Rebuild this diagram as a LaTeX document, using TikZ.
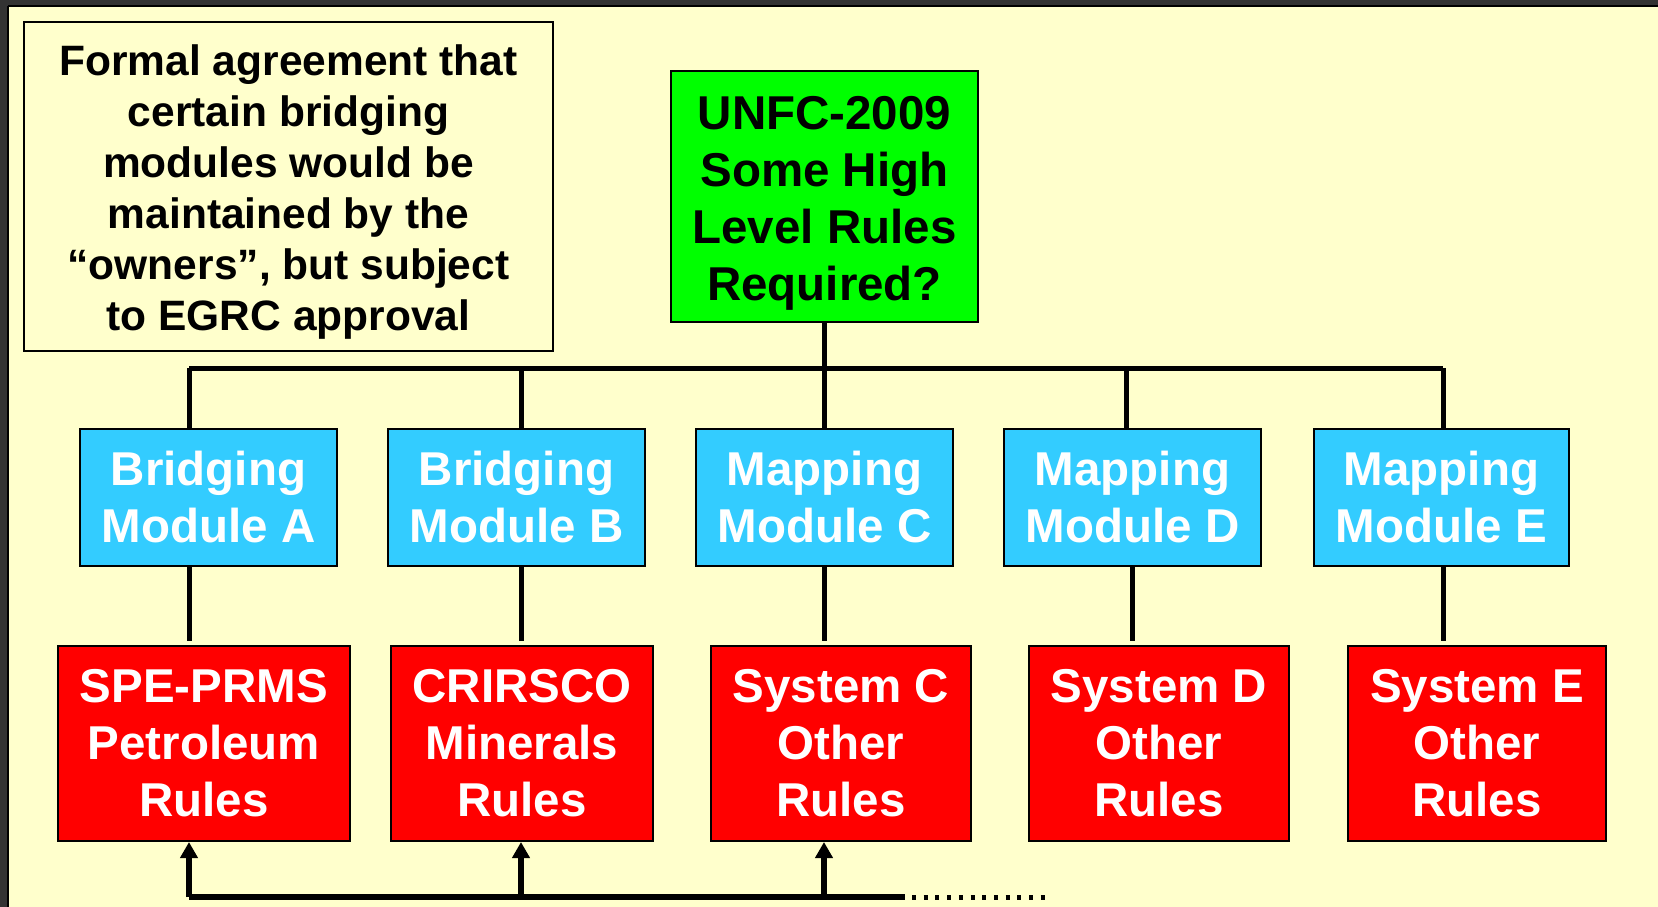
\documentclass[tikz,border=0pt]{standalone}
\usepackage{fontspec}
\setmainfont{Liberation Sans}
\usetikzlibrary{arrows.meta}
\definecolor{bg}{HTML}{FFFFCC}
\definecolor{grn}{HTML}{00FF00}
\definecolor{blu}{HTML}{33CCFF}
\definecolor{rd}{HTML}{FF0000}
\definecolor{framecol}{HTML}{333333}
\begin{document}
\begin{tikzpicture}[x=1pt,y=-1pt,
  box/.style={draw=black,line width=2pt,inner sep=0pt,anchor=north west,align=center,
    font=\bfseries\fontsize{47.5}{57}\selectfont},
  notebox/.style={box,font=\bfseries\fontsize{42.5}{51}\selectfont},
  greenbox/.style={box,fill=grn,text=black},
  bluebox/.style={box,fill=blu,text=white,minimum height=137pt},
  redbox/.style={box,fill=rd,text=white,minimum height=195pt},
  conn/.style={line width=5pt,black},
  upconn/.style={line width=6pt,black,-{Triangle[length=16pt,width=17pt]}},
]
\useasboundingbox (0,0) rectangle (1658,907);
\fill[bg] (0,0) rectangle (1658,907);
\fill[framecol] (0,0) rectangle (1658,6);
\fill[framecol] (0,0) rectangle (8,907);
\draw[black,line width=1.5pt] (8,6) -- (1658,6);
\draw[black,line width=1.5pt] (8,6) -- (8,907);

\node[notebox,fill=bg,minimum width=529pt,minimum height=329pt] (note) at (23,21)
  {\rule{0pt}{42pt}Formal agreement that\\certain bridging\\modules would be\\maintained by the\\“owners”, but subject\\to EGRC approval};

\node[greenbox,minimum width=307pt,minimum height=251pt] (green) at (670,70)
  {\rule{0pt}{46pt}UNFC-2009\\Some High\\Level Rules\\Required?};

\node[bluebox,minimum width=257pt] (bA) at (79,428) {Bridging\\Module A};
\node[bluebox,minimum width=257pt] (bB) at (387,428) {Bridging\\Module B};
\node[bluebox,minimum width=257pt] (bC) at (695,428) {Mapping\\Module C};
\node[bluebox,minimum width=257pt] (bD) at (1003,428) {Mapping\\Module D};
\node[bluebox,minimum width=255pt] (bE) at (1313,428) {Mapping\\Module E};

\node[redbox,minimum width=292pt] (rA) at (57,645) {SPE-PRMS\\Petroleum\\Rules};
\node[redbox,minimum width=262pt] (rB) at (390,645) {CRIRSCO\\Minerals\\Rules};
\node[redbox,minimum width=260pt] (rC) at (710,645) {System C\\Other\\Rules};
\node[redbox,minimum width=260pt] (rD) at (1028,645) {System D\\Other\\Rules};
\node[redbox,minimum width=258pt] (rE) at (1347,645) {System E\\Other\\Rules};

% bus and stubs
\coordinate (tA) at (189,368);
\coordinate (tB) at (521,368);
\coordinate (tC) at (824,368);
\coordinate (tD) at (1126,368);
\coordinate (tE) at (1443,368);
\draw[conn] (tA) -- (tE);
\draw[conn] (green.south -| tC) -- (tC |- bC.north);
\foreach \n in {A,B,D,E} \draw[conn] (t\n) -- (t\n |- b\n.north);

% lower links
\coordinate (lA) at (189,0);
\coordinate (lB) at (521,0);
\coordinate (lC) at (824,0);
\coordinate (lD) at (1132,0);
\coordinate (lE) at (1443,0);
\foreach \n in {A,B,C,D,E} \draw[conn,shorten >=4pt] (b\n.south -| l\n) -- (r\n.north -| l\n);

% bottom feedback line
\coordinate (fA) at (189,897);
\coordinate (fEnd) at (905,897);
\coordinate (fDotsStart) at (912,897);
\coordinate (fDots) at (1052,897);
\draw[line width=6pt] (fA) -- (fEnd);
\draw[line width=5pt,dash pattern=on 4pt off 7.7pt] (fDotsStart) -- (fDots);
\draw[upconn] (fA) -- (rA.south -| lA);
\draw[upconn] (fA -| lB) -- (rB.south -| lB);
\draw[upconn] (fA -| lC) -- (rC.south -| lC);
\end{tikzpicture}
\end{document}
